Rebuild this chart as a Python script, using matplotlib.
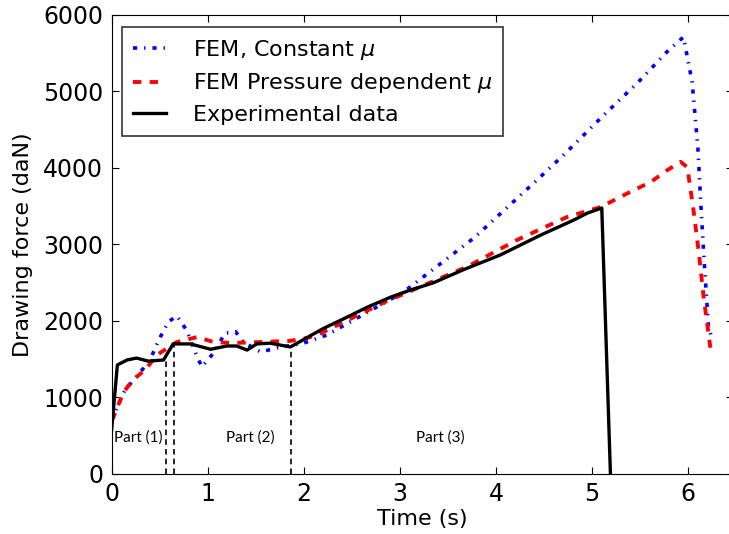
import matplotlib
matplotlib.use("Agg")
import matplotlib.pyplot as plt

# Experimental data
t_exp = [0.0, 0.06, 0.16, 0.26, 0.38, 0.54, 0.64, 0.82, 1.03, 1.20, 1.30, 1.41, 1.51, 1.65, 1.86,
         2.03, 2.20, 2.45, 2.66, 2.90, 3.10, 3.35, 3.66, 4.04, 4.46, 4.81, 4.95, 5.10, 5.19]
f_exp = [575, 1425, 1490, 1515, 1475, 1490, 1700, 1700, 1630, 1673, 1673, 1620, 1700, 1710, 1660,
         1780, 1900, 2050, 2180, 2310, 2400, 2500, 2670, 2860, 3120, 3320, 3410, 3477, 0]

# FEM, constant mu
t_const = [0.0, 0.02, 0.14, 0.26, 0.40, 0.49, 0.59, 0.68, 0.78, 0.89, 0.94, 1.06, 1.18, 1.29, 1.37,
           1.55, 1.72, 2.00, 2.24, 3.04, 3.77, 4.39, 4.72, 5.12, 5.47, 5.78, 5.95, 6.04, 6.10,
           6.13, 6.16, 6.21, 6.24]
f_const = [700, 770, 1100, 1270, 1490, 1750, 1990, 2065, 1880, 1530, 1400, 1580, 1840, 1860, 1725,
           1595, 1647, 1712, 1817, 2380, 3085, 3800, 4190, 4690, 5110, 5520, 5712, 5124, 4261,
           3540, 2890, 1920, 1800]

# FEM, pressure dependent mu
t_press = [0.0, 0.02, 0.12, 0.22, 0.35, 0.47, 0.68, 0.89, 1.06, 1.27, 1.55, 1.86, 2.04, 2.14, 2.83,
           3.70, 4.22, 4.74, 5.09, 5.40, 5.61, 5.78, 5.92, 5.99, 6.05, 6.11, 6.16, 6.23]
f_press = [700, 745, 1060, 1230, 1360, 1555, 1725, 1790, 1725, 1712, 1725, 1740, 1780, 1817, 2240,
           2710, 3060, 3360, 3490, 3690, 3817, 3970, 4080, 4010, 3490, 2890, 2310, 1650]

# Part boundaries (time, force at the curve)
part_t = [0.567, 0.645, 1.866]
part_f = [1490, 1700, 1680]
part_labels = ["Part (1)", "Part (2)", "Part (3)"]
part_label_t = [0.02, 1.44, 3.42]

plt.rcParams['lines.scale_dashes'] = False

fig = plt.figure(figsize=(7.29, 5.34), dpi=100)
ax = fig.add_axes([0.1531, 0.1124, 0.8530, 0.8596])

ax.plot(t_const, f_const, color='blue', lw=2.6, dashes=(3, 5, 1, 5), label=r'FEM, Constant $\mu$')
ax.plot(t_press, f_press, color='red', lw=2.8, dashes=(6, 6), label=r'FEM Pressure dependent $\mu$')
ax.plot(t_exp, f_exp, color='black', lw=2.4, label='Experimental data')

for tp, fp in zip(part_t, part_f):
    ax.plot([tp, tp], [0, fp], color='black', lw=1.2, dashes=(4, 3))

ax.text(part_label_t[0], 480, part_labels[0], ha='left', va='center', fontsize=11, family='Lato')
ax.text(part_label_t[1], 480, part_labels[1], ha='center', va='center', fontsize=11, family='Lato')
ax.text(part_label_t[2], 480, part_labels[2], ha='center', va='center', fontsize=11, family='Lato')

ax.set_xlim(0, 6.47)
ax.set_ylim(0, 6000)
ax.set_xticks([0, 1, 2, 3, 4, 5, 6])
ax.set_yticks([0, 1000, 2000, 3000, 4000, 5000, 6000])
ax.tick_params(direction='in', top=True, right=True, labelsize=17, length=5, pad=6)
ax.set_xlabel('Time (s)', fontsize=16, labelpad=2)
ax.set_ylabel('Drawing force (daN)', fontsize=16, labelpad=7)

leg = ax.legend(loc='upper left', fontsize=16, frameon=True, fancybox=False,
                handlelength=1.5, handletextpad=1.2, labelspacing=0.42,
                borderpad=0.5, borderaxespad=0.0, bbox_to_anchor=(0.016, 0.974))
leg.get_frame().set_edgecolor('black')
leg.get_frame().set_linewidth(1.2)

fig.savefig('out.png', dpi=100)
